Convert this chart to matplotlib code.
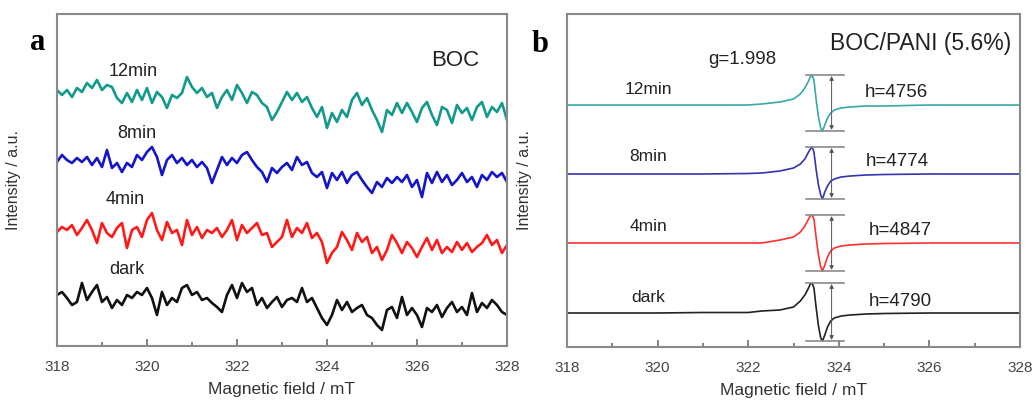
import numpy as np
import matplotlib.pyplot as plt

plt.rcParams['font.family'] = ['Liberation Sans', 'DejaVu Sans']

# panel a: BOC, noisy spectra (intensity in a.u., stacked)
boc_12min = [256, 251, 256, 249, 258, 254, 263, 258, 266, 256, 261, 259, 248, 243, 253, 244,
             256, 246, 258, 243, 254, 249, 238, 251, 248, 253, 269, 259, 253, 258, 249, 253,
             238, 249, 256, 246, 261, 253, 243, 254, 251, 243, 239, 226, 234, 244, 254, 246,
             253, 244, 249, 238, 229, 239, 218, 233, 224, 236, 229, 246, 253, 241, 248, 236,
             226, 214, 236, 231, 243, 233, 243, 234, 224, 238, 244, 231, 221, 239, 236, 223,
             241, 233, 238, 226, 239, 244, 229, 239, 234, 243, 226]
boc_8min = [184, 191, 186, 183, 188, 184, 189, 181, 188, 179, 196, 178, 183, 174, 183, 179,
            191, 186, 194, 199, 189, 171, 186, 191, 183, 188, 181, 186, 179, 184, 178, 163,
            176, 189, 181, 188, 183, 191, 194, 186, 179, 174, 164, 178, 173, 179, 183, 176,
            189, 181, 184, 173, 169, 174, 158, 173, 166, 174, 163, 171, 174, 166, 159, 153,
            164, 159, 168, 163, 169, 164, 171, 159, 166, 149, 173, 163, 174, 164, 171, 161,
            166, 173, 164, 169, 159, 171, 166, 174, 169, 173, 164]
boc_4min = [114, 119, 116, 121, 111, 118, 126, 116, 103, 123, 113, 109, 118, 123, 98, 116,
            119, 109, 126, 133, 116, 106, 124, 113, 116, 101, 126, 111, 119, 108, 116, 113,
            118, 109, 116, 126, 106, 121, 113, 118, 123, 111, 113, 99, 104, 109, 126, 109,
            118, 113, 123, 108, 113, 104, 83, 93, 99, 114, 106, 96, 113, 104, 109, 93,
            99, 86, 96, 111, 103, 93, 104, 98, 89, 99, 108, 96, 106, 93, 99, 94,
            104, 96, 103, 94, 99, 103, 111, 101, 106, 93, 101]
boc_dark = [51, 54, 48, 41, 44, 63, 46, 54, 61, 44, 49, 38, 46, 41, 51, 48,
            54, 51, 58, 48, 31, 54, 41, 48, 44, 58, 61, 51, 54, 46, 48, 43,
            39, 34, 51, 61, 48, 63, 54, 58, 41, 48, 38, 44, 49, 39, 46, 48,
            44, 58, 44, 48, 38, 28, 21, 31, 46, 36, 44, 34, 38, 41, 31, 28,
            21, 16, 36, 39, 28, 49, 31, 38, 31, 19, 38, 34, 41, 29, 38, 44,
            34, 39, 31, 53, 34, 43, 38, 46, 41, 34, 31]

# panel b: BOC/PANI (5.6%)
pani_field = [318.0, 319.0, 320.0, 321.0, 322.0, 322.3, 322.7, 323.0, 323.15, 323.25, 323.32,
              323.37, 323.41, 323.45, 323.5, 323.55, 323.6, 323.64, 323.69, 323.75, 323.82,
              323.9, 324.05, 324.25, 324.6, 325.0, 326.0, 327.0, 328.0]
pani_12min = [242, 242, 242, 242, 242, 243, 245, 248, 253, 259, 265, 270, 272, 267, 247,
              230, 219, 216, 222, 229, 234, 237, 239, 240, 241, 241, 242, 242, 242]
pani_8min = [173, 173, 173, 173, 173.5, 174, 176, 179, 183, 188, 194, 198, 200, 195, 177,
             162, 152, 148, 155, 161, 166, 168, 170, 171, 172, 172.5, 173, 173, 173]
pani_4min = [104, 104, 104, 104, 104, 104, 107, 110, 115, 121, 127, 131, 132, 128, 109,
             92, 80, 76, 82, 90, 96, 99, 101, 102, 103, 103.5, 104, 104, 104]
pani_dark = [34, 34, 34, 34.5, 34.5, 36, 37, 40, 46, 52, 58, 63, 64, 59, 39,
             21, 9, 6, 12, 20, 26, 29, 31, 32, 33, 33.5, 34, 34, 34]

labels = ['12min', '8min', '4min', 'dark']
heights = ['h=4756', 'h=4774', 'h=4847', 'h=4790']


def style_axes(ax, ymax, ylab_x):
    ax.set_xlim(318, 328)
    ax.set_ylim(0, ymax)
    ax.set_xticks([318, 320, 322, 324, 326, 328])
    ax.set_xticks([319, 321, 323, 325, 327], minor=True)
    ax.set_yticks([])
    ax.tick_params(axis='x', which='both', direction='in', colors='#777777',
                   labelcolor='#444444', labelsize=11, pad=10)
    ax.tick_params(axis='x', which='major', length=5, width=1.3)
    ax.tick_params(axis='x', which='minor', length=3, width=1.3)
    for s in ax.spines.values():
        s.set_color('#8a8a8a')
        s.set_linewidth(1.5)
    ax.set_xlabel('Magnetic field / mT', fontsize=12.5, color='#333333')
    ax.set_ylabel('Intensity / a.u.', fontsize=11.5, color='#333333')
    ax.xaxis.set_label_coords(0.5, -0.108)
    ax.yaxis.set_label_coords(ylab_x, 0.5)


fig = plt.figure(figsize=(10.34, 4.0), dpi=100)

ax1 = fig.add_axes([0.0551, 0.135, 0.4352, 0.83])
field_a = np.linspace(318, 328, len(boc_dark))
colors_a = ['#149a8c', '#1414c8', '#ff1a1a', '#111111']
for trace, c in zip([boc_12min, boc_8min, boc_4min, boc_dark], colors_a):
    ax1.plot(field_a, trace, color=c, lw=1.9)
for lab, x, y in zip(labels, [319.69, 319.78, 319.51, 319.56], [274, 213, 146, 76]):
    ax1.text(x, y, lab, ha='center', va='center', fontsize=13, color='#222222')
ax1.text(326.84, 286, 'BOC', ha='center', va='center', fontsize=16, color='#222222')
style_axes(ax1, 332, -0.08)

ax2 = fig.add_axes([0.5484, 0.1325, 0.4381, 0.8325])
colors_b = ['#38aaa4', '#3434b0', '#ff3030', '#222222']
traces_b = [pani_12min, pani_8min, pani_4min, pani_dark]
for trace, c in zip(traces_b, colors_b):
    ax2.plot(pani_field, trace, color=c, lw=1.2)
    top = max(trace)
    bot = min(trace)
    ax2.plot([323.28, 324.11], [top, top], color='#8a8a8a', lw=1.2)
    ax2.plot([323.28, 324.11], [bot, bot], color='#8a8a8a', lw=1.2)
    ax2.annotate('', xy=(323.84, top - 1), xytext=(323.84, bot + 1),
                 arrowprops=dict(arrowstyle='<|-|>', color='#555555', lw=0.7,
                                 mutation_scale=6, shrinkA=0, shrinkB=0))
for lab, y in zip(labels, [257, 190, 120, 50]):
    ax2.text(319.8, y, lab, ha='center', va='center', fontsize=12.5, color='#222222')
for lab, x, y in zip(heights, [325.28, 325.28, 325.35, 325.35], [254, 185, 116, 45]):
    ax2.text(x, y, lab, ha='center', va='center', fontsize=13.5, color='#222222')
ax2.text(321.86, 287, 'g=1.998', ha='center', va='center', fontsize=13.5, color='#222222')
ax2.text(327.8, 303, 'BOC/PANI (5.6%)', ha='right', va='center', fontsize=16.5, color='#222222')
style_axes(ax2, 333, -0.077)

fig.text(0.036, 0.8925, 'a', fontsize=22, fontweight='bold', family='Liberation Serif',
         ha='center', va='center')
fig.text(0.522, 0.8875, 'b', fontsize=22, fontweight='bold', family='Liberation Serif',
         ha='center', va='center')

fig.savefig('out.png', dpi=100)
